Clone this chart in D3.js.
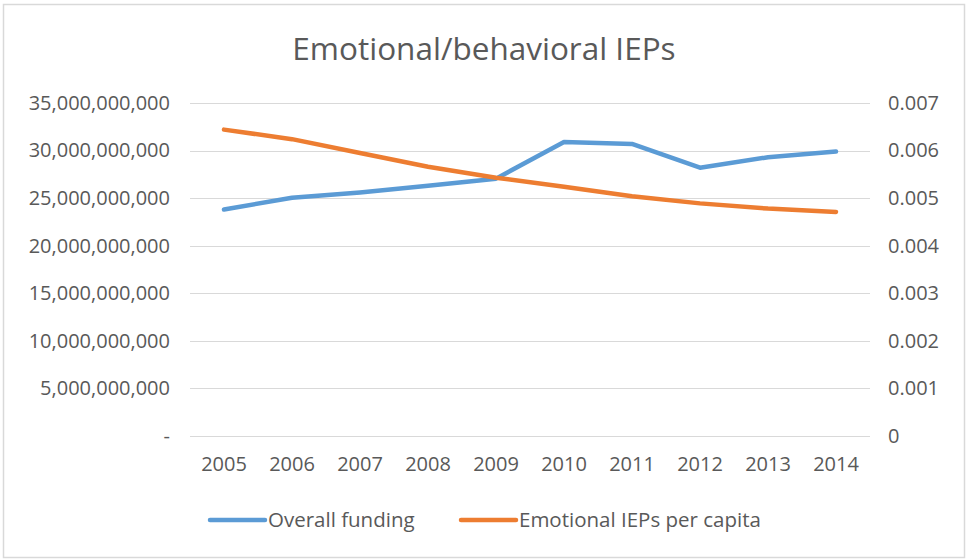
<!DOCTYPE html>
<html>
<head>
<meta charset="utf-8">
<script src="https://cdn.jsdelivr.net/npm/d3@7"></script>
<style>
  body { margin: 0; background: #fff; }
  .chart text { font-family: "Open Sans", sans-serif; fill: #595959; }
  .axis path, .axis line { display: none; }
</style>
</head>
<body>
<div class="chart"></div>
<script>
// chart data
var years = ["2005", "2006", "2007", "2008", "2009", "2010", "2011", "2012", "2013", "2014"];
var overallFunding = [23.8e9, 25.05e9, 25.6e9, 26.3e9, 27.05e9, 30.9e9, 30.7e9, 28.2e9, 29.3e9, 29.9e9];
var iepsPerCapita = [0.00644, 0.00624, 0.00595, 0.00566, 0.00543, 0.00524, 0.00504, 0.00489, 0.00478, 0.00471];
var leftTicks = [0, 5e9, 10e9, 15e9, 20e9, 25e9, 30e9, 35e9];
var rightTicks = [0, 0.001, 0.002, 0.003, 0.004, 0.005, 0.006, 0.007];
var seriesNames = ["Overall funding", "Emotional IEPs per capita"];
var colors = ["#5B9BD5", "#ED7D31"];

var svgWidth = 970;
var svgHeight = 560;
var margin = { top: 103, right: 100, bottom: 124, left: 190 };
var width = svgWidth - margin.left - margin.right;
var height = svgHeight - margin.top - margin.bottom;

var svg = d3.select(".chart")
    .append("svg")
    .attr("width", svgWidth)
    .attr("height", svgHeight);

// outer border
svg.append("rect")
    .attr("x", 3.5)
    .attr("y", 4.5)
    .attr("width", 961)
    .attr("height", 553)
    .attr("fill", "none")
    .attr("stroke", "#d9d9d9")
    .attr("stroke-width", 1.5);

svg.append("text")
    .attr("x", 484)
    .attr("y", 60)
    .attr("text-anchor", "middle")
    .style("font-size", "31.5px")
    .text("Emotional/behavioral IEPs");

var chartGroup = svg.append("g")
    .attr("transform", `translate(${margin.left},${margin.top})`);

// scales
var xScale = d3.scaleBand()
    .domain(years)
    .range([0, width]);

var yLeft = d3.scaleLinear()
    .domain([0, 35e9])
    .range([height, 0]);

var yRight = d3.scaleLinear()
    .domain([0, 0.007])
    .range([height, 0]);

// gridlines
chartGroup.selectAll(".grid")
    .data(leftTicks)
    .enter()
    .append("line")
    .attr("x1", 0)
    .attr("x2", width)
    .attr("y1", d => Math.round(yLeft(d)) + 0.5)
    .attr("y2", d => Math.round(yLeft(d)) + 0.5)
    .attr("stroke", "#d9d9d9")
    .attr("stroke-width", 1.2);

// axes
var leftAxis = d3.axisLeft(yLeft)
    .tickValues(leftTicks)
    .tickSize(0)
    .tickPadding(20)
    .tickFormat(d => d === 0 ? "-" : d3.format(",")(d));

var rightAxis = d3.axisRight(yRight)
    .tickValues(rightTicks)
    .tickSize(0)
    .tickPadding(18)
    .tickFormat(d => d === 0 ? "0" : d3.format(".3f")(d));

var bottomAxis = d3.axisBottom(xScale)
    .tickSize(0)
    .tickPadding(21);

chartGroup.append("g")
    .attr("class", "axis")
    .call(leftAxis)
    .selectAll("text")
    .style("font-size", "20px");

chartGroup.append("g")
    .attr("class", "axis")
    .attr("transform", `translate(${width}, 0)`)
    .call(rightAxis)
    .selectAll("text")
    .style("font-size", "20px");

chartGroup.append("g")
    .attr("class", "axis")
    .attr("transform", `translate(0, ${height})`)
    .call(bottomAxis)
    .selectAll("text")
    .style("font-size", "20px");

// lines
var xCenter = d => xScale(d) + xScale.bandwidth() / 2;

var fundingLine = d3.line()
    .x((d, i) => xCenter(years[i]))
    .y(d => yLeft(d));

var iepLine = d3.line()
    .x((d, i) => xCenter(years[i]))
    .y(d => yRight(d));

chartGroup.append("path")
    .datum(overallFunding)
    .attr("d", fundingLine)
    .attr("fill", "none")
    .attr("stroke", colors[0])
    .attr("stroke-width", 4.5)
    .attr("stroke-linecap", "round")
    .attr("stroke-linejoin", "round");

chartGroup.append("path")
    .datum(iepsPerCapita)
    .attr("d", iepLine)
    .attr("fill", "none")
    .attr("stroke", colors[1])
    .attr("stroke-width", 4.5)
    .attr("stroke-linecap", "round")
    .attr("stroke-linejoin", "round");

// legend
var legendX = [210, 461];
var legend = svg.selectAll(".legend")
    .data(seriesNames)
    .enter()
    .append("g")
    .attr("transform", (d, i) => `translate(${legendX[i]}, 520)`);

legend.append("line")
    .attr("x1", 0)
    .attr("x2", 55)
    .attr("stroke", (d, i) => colors[i])
    .attr("stroke-width", 4.5)
    .attr("stroke-linecap", "round");

legend.append("text")
    .attr("x", 58)
    .attr("dy", "0.35em")
    .style("font-size", "20.5px")
    .text(d => d);
</script>
</body>
</html>
